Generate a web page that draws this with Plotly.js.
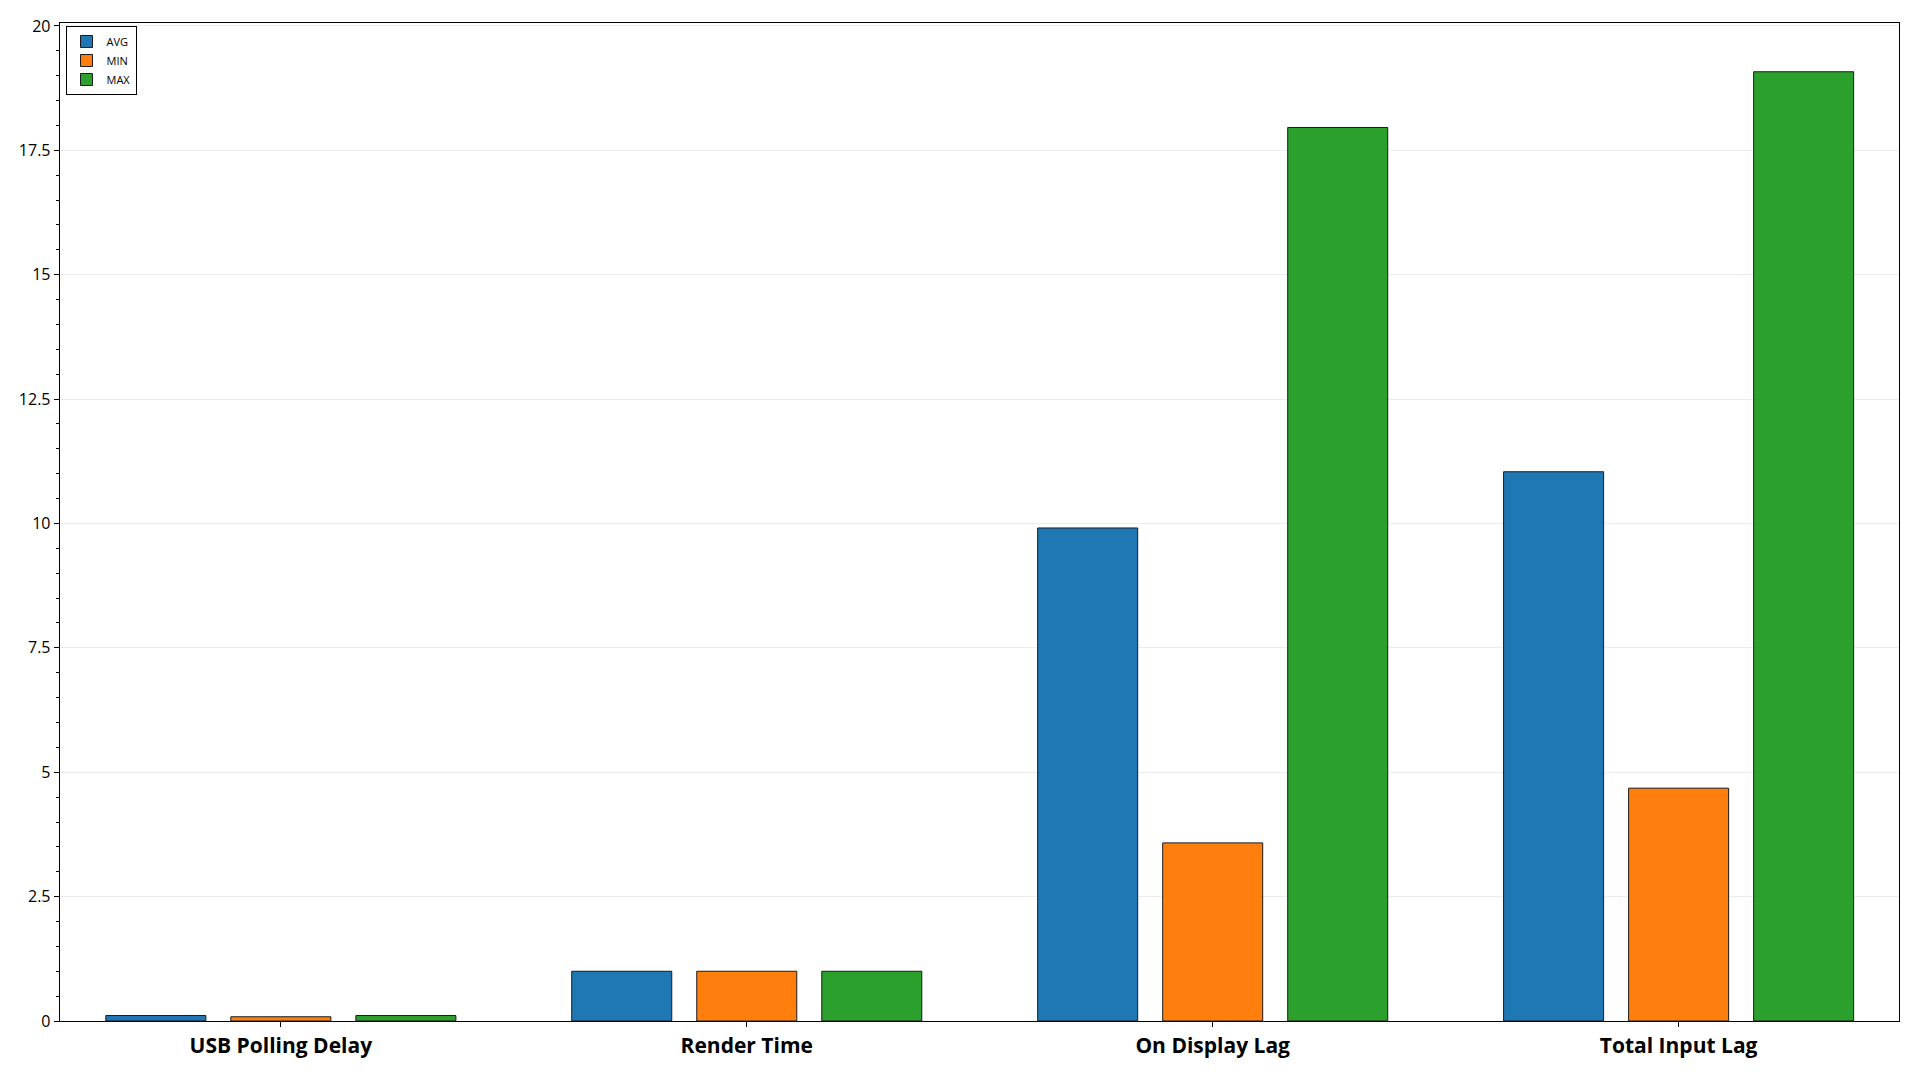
<!DOCTYPE html>
<html>
<head>
<meta charset="utf-8">
<script src="https://cdn.plot.ly/plotly-3.0.1.min.js"></script>
<style>html,body{margin:0;padding:0;background:#fff;}#chart{width:1920px;height:1080px;}</style>
</head>
<body>
<div id="chart"></div>
<script>
const categories = ["USB Polling Delay", "Render Time", "On Display Lag", "Total Input Lag"];
const seriesNames = ["AVG", "MIN", "MAX"];
const avgValues = [0.11, 1.0, 9.91, 11.04];
const minValues = [0.085, 1.0, 3.58, 4.68];
const maxValues = [0.11, 1.0, 17.96, 19.08];
const seriesColors = ["#1f77b4", "#ff7f0e", "#2ca02c"];

const allValues = [avgValues, minValues, maxValues];
const traces = allValues.map((vals, i) => ({
  type: "bar",
  name: seriesNames[i],
  x: categories,
  y: vals,
  marker: { color: seriesColors[i], line: { color: "#1a1a1a", width: 1 } },
  hoverinfo: "x+y+name"
}));

const layout = {
  width: 1920,
  height: 1080,
  margin: { l: 60, r: 21, t: 23, b: 59, pad: 0 },
  paper_bgcolor: "#ffffff",
  plot_bgcolor: "#ffffff",
  font: { family: "Open Sans, sans-serif", color: "#000000" },
  barmode: "group",
  bargap: 0.195,
  bargroupgap: 0.2,
  showlegend: true,
  legend: {
    x: 0.003, y: 0.997, xanchor: "left", yanchor: "top",
    bgcolor: "#ffffff", bordercolor: "#000000", borderwidth: 1,
    font: { size: 11, family: "Open Sans, sans-serif", color: "#000000" },
    tracegroupgap: 0
  },
  xaxis: {
    type: "category",
    range: [-0.474, 3.473],
    showline: true, linecolor: "#000000", linewidth: 1.3, mirror: true,
    ticks: "outside", ticklen: 5, tickcolor: "#000000", tickwidth: 1,
    showgrid: false, zeroline: false,
    tickfont: { size: 21, family: "Open Sans, sans-serif", color: "#000000", weight: "bold" }
  },
  yaxis: {
    range: [0, 20.06],
    dtick: 2.5, tick0: 0,
    showline: true, linecolor: "#000000", linewidth: 1.3, mirror: true,
    ticks: "outside", ticklen: 5, tickcolor: "#000000", tickwidth: 1,
    showgrid: true, gridcolor: "#ececec", gridwidth: 1,
    zeroline: false,
    minor: { dtick: 0.5, ticks: "outside", ticklen: 3, tickcolor: "#000000", showgrid: false },
    tickfont: { size: 16, family: "Open Sans, sans-serif", color: "#000000" }
  }
};

Plotly.newPlot("chart", traces, layout, { displayModeBar: false, staticPlot: true });
</script>
</body>
</html>
